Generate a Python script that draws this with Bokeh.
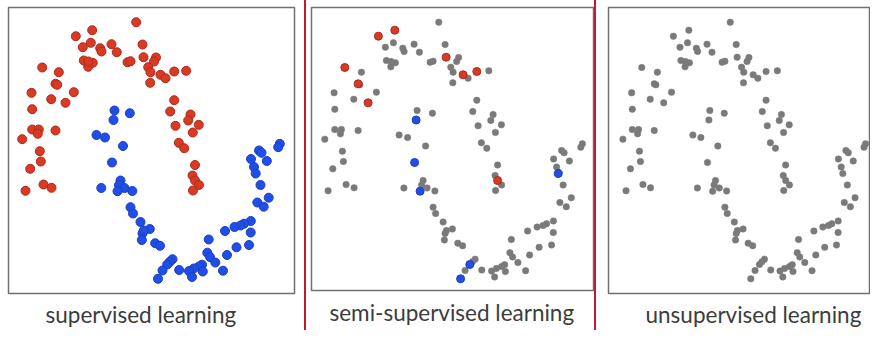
from bokeh.plotting import figure
from bokeh.layouts import row
from bokeh.models import Range1d, Title, Spacer
from bokeh.embed import file_html
from bokeh.resources import INLINE

# Two-moons sample (x to the right, y downward)
red_x = [135.7, 75.3, 91.7, 82.3, 90.3, 99.7, 101, 111, 116.3, 142,
         143, 127, 130, 83.3, 87.7, 92.3, 41.7, 58.3, 55, 56.7,
         73.3, 31, 50.7, 65, 31.7, 31.7, 38.3, 37.3, 55, 21.7,
         39.3, 40.3, 29.7, 43, 51, 25, 155.5, 153.5, 147.7, 150,
         160, 165, 173.7, 185.7, 149.7, 173.7, 169.7, 190, 187.7, 175,
         198.3, 192.3, 178.3, 183.7, 194.5, 192, 194.5, 198.5, 192.5, 88]
red_y = [21.7, 35.7, 29.7, 46.7, 42.3, 47.7, 51, 43.7, 51.7, 44,
         56.7, 61.7, 60.7, 60, 66.3, 62.3, 67, 71.7, 83.3, 84.3,
         91.7, 92.3, 98.7, 102.3, 108.7, 129, 129, 133.3, 130, 138.7,
         150.7, 161, 168.3, 184, 187.3, 190.3, 57, 61, 66.7, 71.7,
         74.3, 77.7, 71, 70.3, 82.3, 99.7, 111, 114, 120, 125.3,
         124.3, 132, 142.3, 147.7, 164.5, 175, 180, 184.5, 190, 61]
blue_x = [114, 129.3, 113, 96, 104.5, 122.5, 111.5, 100.8, 120, 118.5,
          124, 131.8, 117, 130, 132.5, 140, 149.3, 142, 141.3, 154.7,
          159.5, 279.3, 277.7, 258.5, 261, 250.5, 266.3, 253.5, 255.2, 260,
          268.2, 256.8, 263.2, 250.3, 243.5, 240, 234, 224.5, 250.2, 248.5,
          236, 226.5, 208.2, 206.8, 209.5, 214.8, 222.5, 201.5, 198.5, 193.3,
          188.5, 191.5, 178.7, 172, 169.3, 166.7, 162, 157.5, 202.3, 143.3]
blue_y = [110, 112.7, 119.5, 134.5, 137, 145.5, 162, 187.5, 180, 184.5,
          187.5, 190.5, 190.7, 206.7, 213, 221.5, 228.5, 233, 239.5, 242.7,
          245.3, 143.3, 146.7, 150, 152.3, 158.5, 160.5, 166.5, 173, 184.5,
          197.2, 202, 206.2, 220.5, 223.2, 225, 226.5, 230.5, 232, 244.5,
          246.8, 254.5, 239, 252.2, 256.5, 262, 270.2, 264.2, 266, 268,
          270.5, 276.5, 269.5, 258.7, 261.3, 264, 270, 278.3, 271, 230]

# points that keep their label in the semi-supervised panel
semi_red_idx = [1, 2, 16, 18, 23, 10, 40, 42, 56]
semi_blue_idx = [2, 6, 12, 28, 55, 57]

captions = ["supervised learning", "semi-supervised learning", "unsupervised learning"]

RED, RED_EDGE = "#d83a26", "#b02a18"
BLUE, BLUE_EDGE = "#1f4fe8", "#1a3fc4"
GRAY = "#7a7a7a"
BOX = "#707070"
TXT = "#3c3c3c"
SEP = "#bf1a2f"
FONT = "Lato"
H = 330


def panel(fw, fh, xr, yr, left, right, text, offset, standoff):
    p = figure(frame_width=fw, frame_height=fh, x_range=Range1d(*xr), y_range=Range1d(*yr),
               output_backend="svg", toolbar_location=None,
               x_axis_location=None, y_axis_location=None,
               min_border_left=left, min_border_right=right,
               min_border_top=7, min_border_bottom=H - 7 - fh)
    p.grid.visible = False
    p.outline_line_color = BOX
    p.outline_line_width = 1.5
    p.background_fill_color = "white"
    p.border_fill_color = "white"
    p.add_layout(Title(text=text, align="left", offset=offset, standoff=standoff,
                       text_font=FONT, text_font_size="22.5px", text_font_style="normal",
                       text_color=TXT), "below")
    return p


# --- supervised
p1 = panel(286, 286, (8, 294), (293, 7), 8, 10, captions[0], 37, 10)
p1.scatter(red_x, red_y, size=9, fill_color=RED, line_color=RED_EDGE, line_width=1)
p1.scatter(blue_x, blue_y, size=9, fill_color=BLUE, line_color=BLUE_EDGE, line_width=1)

# --- semi-supervised
p2 = panel(282, 283, (8.4, 290.4), (290, 7), 5, 1, captions[1], 18, 13)
gx = [x for i, x in enumerate(red_x) if i not in semi_red_idx] + \
     [x for i, x in enumerate(blue_x) if i not in semi_blue_idx]
gy = [y for i, y in enumerate(red_y) if i not in semi_red_idx] + \
     [y for i, y in enumerate(blue_y) if i not in semi_blue_idx]
p2.scatter(gx, gy, size=6.5, fill_color=GRAY, line_color=GRAY, line_width=0.5)
p2.scatter([red_x[i] for i in semi_red_idx], [red_y[i] for i in semi_red_idx],
           size=8, fill_color=RED, line_color=RED_EDGE, line_width=1)
p2.scatter([blue_x[i] for i in semi_blue_idx], [blue_y[i] for i in semi_blue_idx],
           size=8, fill_color=BLUE, line_color=BLUE_EDGE, line_width=1)

# --- unsupervised (its right edge runs to the window edge)
p3 = panel(262, 286, (6.4, 284.6), (293, 7), 12, 0, captions[2], 37, 10)
p3.scatter(red_x + blue_x, red_y + blue_y, size=6.5, fill_color=GRAY, line_color=GRAY, line_width=0.5)

s1 = Spacer(width=2, height=H, styles={"background-color": SEP})
s2 = Spacer(width=2, height=H, styles={"background-color": SEP})

layout = row(p1, s1, p2, s2, p3, spacing=0)
open("out.html", "w").write(file_html(layout, INLINE))
